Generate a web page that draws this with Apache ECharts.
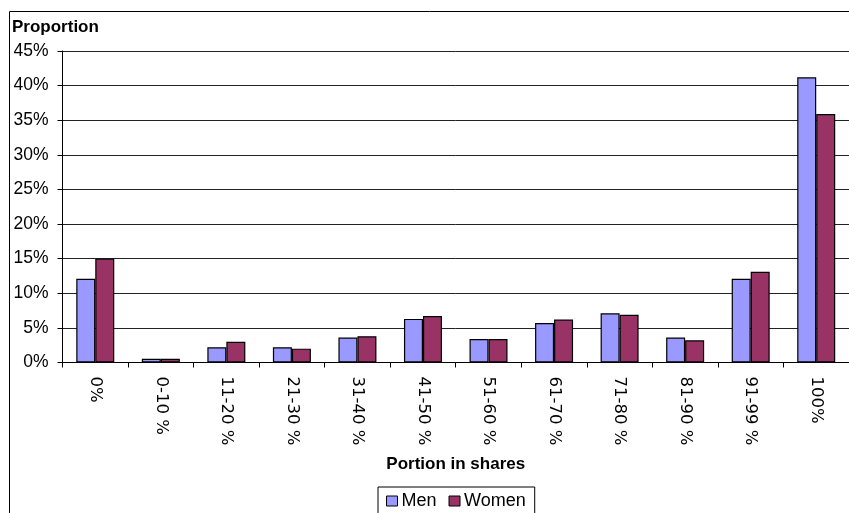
<!DOCTYPE html>
<html>
<head>
<meta charset="utf-8">
<script src="https://cdn.jsdelivr.net/npm/echarts@6/dist/echarts.min.js"></script>
<style>
  html, body { margin: 0; padding: 0; background: #fff; }
  #chart { width: 849px; height: 513px; }
</style>
</head>
<body>
<div id="chart"></div>
<script>
// Share brackets on the horizontal axis
const categories = ['0%', '0-10 %', '11-20 %', '21-30 %', '31-40 %', '41-50 %',
                    '51-60 %', '61-70 %', '71-80 %', '81-90 %', '91-99 %', '100%'];
// Proportion of respondents (percent) in each bracket
const menValues   = [12.1, 0.55, 2.2, 2.2, 3.6, 6.3, 3.4, 5.7, 7.1, 3.6, 12.1, 41.2];
const womenValues = [15.0, 0.55, 3.0, 2.0, 3.8, 6.7, 3.4, 6.2, 6.9, 3.2, 13.1, 35.9];
// Vertical axis range and step (percent)
const yMin = 0, yMax = 45, yStep = 5;

const FONT = 'Liberation Sans, Arial, sans-serif';
const chart = echarts.init(document.getElementById('chart'), null, { renderer: 'canvas' });

chart.setOption({
  animation: false,
  backgroundColor: '#fff',
  textStyle: { fontFamily: FONT, color: '#000' },
  graphic: [
    {
      type: 'rect',
      shape: { x: 9.5, y: 11.5, width: 900, height: 600 },
      style: { fill: 'none', stroke: '#000', lineWidth: 1 },
      silent: true
    },
    {
      type: 'text',
      left: 12,
      top: 19,
      style: { text: 'Proportion', fontFamily: FONT, fontWeight: 'bold', fontSize: 17, fill: '#000' }
    }
  ],
  grid: { left: 62.5, top: 51, width: 796, bottom: 150.5, containLabel: false },
  legend: {
    left: 378,
    top: 487,
    padding: [5, 9, 8, 8],
    borderColor: '#000',
    borderWidth: 1,
    itemWidth: 11,
    itemHeight: 10,
    itemGap: 12,
    icon: 'rect',
    itemStyle: { borderColor: '#000', borderWidth: 1 },
    textStyle: { fontFamily: FONT, fontSize: 18, color: '#000', padding: [0, 0, 0, -1] },
    data: ['Men', 'Women']
  },
  xAxis: {
    type: 'category',
    data: categories,
    name: 'Portion in shares',
    nameLocation: 'middle',
    nameGap: 93,
    nameTextStyle: { fontFamily: FONT, fontWeight: 'bold', fontSize: 17, color: '#000' },
    axisLine: { lineStyle: { color: '#000', width: 1 } },
    axisTick: { show: true, length: 5, alignWithLabel: false, lineStyle: { color: '#000' } },
    axisLabel: {
      interval: 0,
      rotate: -90,
      margin: 14,
      fontFamily: 'DejaVu Sans, sans-serif',
      fontSize: 16.5,
      color: '#000'
    },
    splitLine: { show: false }
  },
  yAxis: {
    type: 'value',
    min: yMin,
    max: yMax,
    interval: yStep,
    axisLine: { show: true, lineStyle: { color: '#000', width: 1 } },
    axisTick: { show: true, length: 5, lineStyle: { color: '#000' } },
    axisLabel: {
      formatter: '{value}%',
      margin: 14,
      fontFamily: FONT,
      fontSize: 17.5,
      color: '#000'
    },
    splitLine: { show: true, lineStyle: { color: '#222', width: 1 } }
  },
  series: [
    {
      name: 'Men',
      type: 'bar',
      data: menValues,
      barWidth: 19,
      barGap: '0%',
      itemStyle: { color: '#9999FF', borderColor: '#000', borderWidth: 1.2 }
    },
    {
      name: 'Women',
      type: 'bar',
      data: womenValues,
      barWidth: 19,
      barGap: '0%',
      itemStyle: { color: '#993366', borderColor: '#000', borderWidth: 1.2 }
    }
  ]
});
</script>
</body>
</html>
